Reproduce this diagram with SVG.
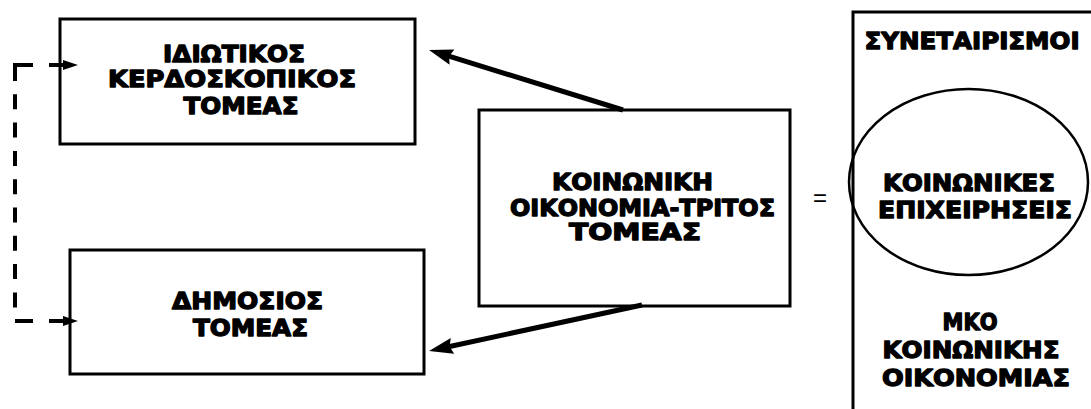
<svg xmlns="http://www.w3.org/2000/svg" width="1091" height="409" viewBox="0 0 1091 409">
<style>
.box{fill:#fff;stroke:#000;stroke-width:3}
.t{font-family:"DejaVu Sans","Liberation Sans",Arial,sans-serif;font-weight:bold;font-size:23px;fill:#000;stroke:#000;stroke-width:1.3;stroke-linejoin:round;text-anchor:middle}
.arrow{stroke:#000;stroke-width:5;fill:none}
.dash{stroke:#000;stroke-width:4;fill:none}
</style>
<defs>
<marker id="ah" markerUnits="userSpaceOnUse" markerWidth="26" markerHeight="18" refX="10" refY="8" orient="auto">
<path d="M0,0 L24,8 L0,16 L3,8 z" fill="#000"/>
</marker>
</defs>
<rect width="1091" height="409" fill="#fff"/>
<g id="private">
<rect class="box" x="60" y="19" width="355" height="125"/>
<text class="t" transform="translate(234,62) scale(1.15,1)" textLength="123.5" lengthAdjust="spacingAndGlyphs">ΙΔΙΩΤΙΚΟΣ</text>
<text class="t" transform="translate(232,87) scale(1.15,1)" textLength="215.7" lengthAdjust="spacingAndGlyphs">ΚΕΡΔΟΣΚΟΠΙΚΟΣ</text>
<text class="t" transform="translate(241,114) scale(1.15,1)" textLength="100" lengthAdjust="spacingAndGlyphs">ΤΟΜΕΑΣ</text>
</g>
<g id="public">
<rect class="box" x="70" y="250" width="354" height="124"/>
<text class="t" transform="translate(247.5,309) scale(1.15,1)" textLength="131.3" lengthAdjust="spacingAndGlyphs">ΔΗΜΟΣΙΟΣ</text>
<text class="t" transform="translate(250.5,336) scale(1.15,1)" textLength="100" lengthAdjust="spacingAndGlyphs">ΤΟΜΕΑΣ</text>
</g>
<g id="social-economy">
<rect class="box" x="479" y="110" width="311" height="196"/>
<text class="t" transform="translate(632.5,190) scale(1.15,1)" textLength="140" lengthAdjust="spacingAndGlyphs">ΚΟΙΝΩΝΙΚΗ</text>
<text class="t" transform="translate(642.5,216) scale(1.15,1)" textLength="230.4" lengthAdjust="spacingAndGlyphs">ΟΙΚΟΝΟΜΙΑ-ΤΡΙΤΟΣ</text>
<text class="t" transform="translate(635,240) scale(1.15,1)" textLength="114.8" lengthAdjust="spacingAndGlyphs">ΤΟΜΕΑΣ</text>
</g>
<g id="equals">
<text x="820" y="206" font-family="Liberation Sans, Arial, sans-serif" font-size="24" text-anchor="middle" fill="#000">=</text>
</g>
<g id="components">
<rect class="box" x="853" y="12" width="260" height="420"/>
<text class="t" transform="translate(972,49) scale(1.15,1)" textLength="187" lengthAdjust="spacingAndGlyphs">ΣΥΝΕΤΑΙΡΙΣΜΟΙ</text>
<text class="t" transform="translate(970,330) scale(1.15,1)" textLength="47.8" lengthAdjust="spacingAndGlyphs">ΜΚΟ</text>
<text class="t" transform="translate(971,358) scale(1.15,1)" textLength="153.9" lengthAdjust="spacingAndGlyphs">ΚΟΙΝΩΝΙΚΗΣ</text>
<text class="t" transform="translate(976,386) scale(1.15,1)" textLength="163.5" lengthAdjust="spacingAndGlyphs">ΟΙΚΟΝΟΜΙΑΣ</text>
</g>
<g id="social-enterprises">
<ellipse cx="968.5" cy="182" rx="119.5" ry="93" fill="none" stroke="#000" stroke-width="2.5"/>
<text class="t" transform="translate(969,191) scale(1.15,1)" textLength="149.6" lengthAdjust="spacingAndGlyphs">ΚΟΙΝΩΝΙΚΕΣ</text>
<text class="t" transform="translate(975,218) scale(1.15,1)" textLength="168.7" lengthAdjust="spacingAndGlyphs">ΕΠΙΧΕΙΡΗΣΕΙΣ</text>
</g>
<g id="connectors">
<line class="arrow" x1="623" y1="110" x2="442.4" y2="54.1" marker-end="url(#ah)"/>
<line class="arrow" x1="642" y1="305" x2="442.7" y2="348" marker-end="url(#ah)"/>
<line class="dash" x1="13" y1="65" x2="65" y2="65" stroke-dasharray="20 16"/>
<line class="dash" x1="15" y1="63" x2="15" y2="310" stroke-dasharray="18 13.3 15 13.3 15 13.3 15 13.3 15 13.3 15 13.3 15 13.3 15 13.3 15 13.3"/>
<line class="dash" x1="15" y1="321" x2="65" y2="321" stroke-dasharray="18 16"/>
<polygon points="63,60 78,65 63,70" fill="#000"/>
<polygon points="63,316 78,321 63,326" fill="#000"/>
</g>
</svg>
